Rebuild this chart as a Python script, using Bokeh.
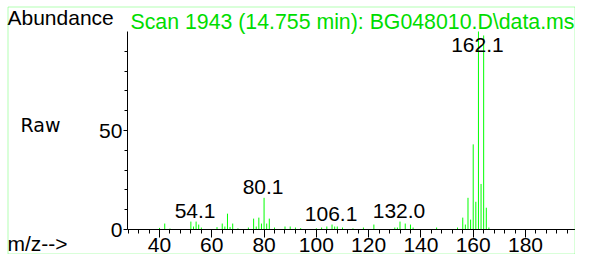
import numpy as np
from bokeh.plotting import figure
from bokeh.models import Range1d, FixedTicker, Label, PolyAnnotation
from bokeh.core.properties import value
from bokeh.embed import file_html
from bokeh.resources import INLINE

# ---- data ----
mz = [40, 42, 44, 52, 53, 54, 55, 56, 62, 64, 65, 66, 67, 68, 70, 74, 76, 77, 78,
      79, 80, 81, 82, 84, 88, 90, 92, 94, 100, 102, 104, 106, 107, 108, 110, 114,
      118, 122, 130, 131, 132, 134, 136, 137, 146, 154, 156, 157, 158, 159, 160,
      161, 162, 163, 164, 165, 166]
abundance = [0.8, 3, 0.5, 4, 1.5, 4, 2.5, 1, 1.2, 3, 1.5, 8, 1.3, 3, 0.6, 1, 5.5, 1.5, 6,
             3, 16, 3, 5.5, 1, 1.5, 1.5, 1, 0.7, 0.6, 1, 1.5, 2.5, 1.5, 1.5, 1, 0.6,
             1, 2.5, 1, 1, 4, 3, 2.5, 1, 1, 1, 6, 2.5, 16, 5, 43,
             14, 100, 23, 98, 11, 1]
peak_label_mz = [54, 80, 106, 132, 162]
peak_label_text = ["54.1", "80.1", "106.1", "132.0", "162.1"]
x_ticks = [40, 60, 80, 100, 120, 140, 160, 180]
x_minor_ticks = list(range(28, 201, 4))
y_ticks = [0, 50]
y_minor_ticks = [10, 20, 30, 40, 60, 70, 80, 90]
title_text = "Scan 1943 (14.755 min): BG048010.D\\data.ms"

W, H = 575, 254
GREEN_TXT = "#00dd00"
GREEN = "#00ff00"
FONT = "Liberation Sans"
BASE_FIX = 6  # alphabetic baseline renders this many px low in the svg output

# pixel calibration of the plotting area (x: 40 -> 159px, 180 -> 525px; y: 0 -> 229px, 100 -> 31px)
xs = (525 - 159) / 140.0
x0 = 40 - 159 / xs
ys = (229 - 31) / 100.0
y0 = -(H - 229) / ys

p = figure(width=W, height=H, output_backend="svg", toolbar_location=None,
           x_range=Range1d(x0, x0 + W / xs), y_range=Range1d(y0, y0 + H / ys),
           min_border=0)
p.grid.visible = False
p.outline_line_color = None
p.background_fill_color = "white"
p.border_fill_color = "white"

p.segment(x0=mz, y0=0, x1=mz, y1=abundance, line_color=GREEN, line_width=1)

lookup = dict(zip(mz, abundance))
label_y = np.minimum([lookup[m] for m in peak_label_mz], 87.5)
p.text(x=peak_label_mz, y=label_y, text=peak_label_text, text_align="center",
       text_baseline="alphabetic", x_offset=-1, y_offset=-5 - BASE_FIX,
       text_font=value(FONT), text_font_size="21px", text_color="black")

xa = p.xaxis[0]
xa.fixed_location = 0
xa.bounds = (27.7, 200.3)
xa.ticker = FixedTicker(ticks=x_ticks, minor_ticks=x_minor_ticks)
xa.major_tick_out = 8
xa.major_tick_in = 0
xa.minor_tick_out = 4
xa.minor_tick_in = 0
xa.axis_line_color = "black"
xa.major_tick_line_color = "black"
xa.minor_tick_line_color = "black"
xa.major_label_text_font = FONT
xa.major_label_text_font_size = "21px"
xa.major_label_text_color = "black"
xa.major_label_standoff = 0

ya = p.yaxis[0]
ya.fixed_location = 27.7
ya.bounds = (0, 100)
ya.ticker = FixedTicker(ticks=y_ticks, minor_ticks=y_minor_ticks)
ya.major_tick_out = 4
ya.major_tick_in = 0
ya.minor_tick_out = 3
ya.minor_tick_in = 0
ya.axis_line_color = "black"
ya.major_tick_line_color = "black"
ya.minor_tick_line_color = "black"
ya.major_label_text_font = FONT
ya.major_label_text_font_size = "21px"
ya.major_label_text_color = "black"
ya.major_label_standoff = 1


def lab(text, cx, cy, color="black", font=FONT, size="21px"):
    # cx, cy: canvas pixel position of the text's left end / baseline
    p.add_layout(Label(x=cx, y=H - (cy - BASE_FIX), x_units="screen", y_units="screen",
                       text=text, text_color=color, text_font=font,
                       text_font_size=size, text_baseline="alphabetic",
                       text_align="left"))


lab("Abundance", 7, 23.3)
lab(title_text, 130, 27, color=GREEN_TXT, size="21.3px")
lab("Raw", 20, 130.7, font="DejaVu Sans", size="19px")
lab("m/z-->", 7, 249)

p.add_layout(PolyAnnotation(xs=[7.5, W - 0.5, W - 0.5, 7.5],
                            ys=[H - 6.5, H - 6.5, 0.5, 0.5],
                            xs_units="screen", ys_units="screen",
                            fill_color=None, line_color=GREEN, line_width=1))

open("out.html", "w").write(file_html(p, INLINE))
